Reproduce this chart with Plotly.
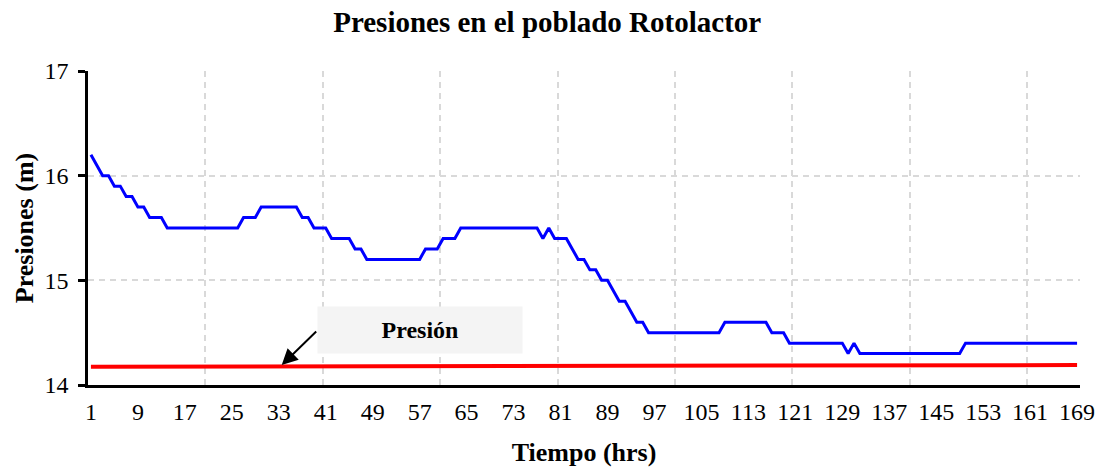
import plotly.graph_objects as go

# hours 1..169
hours = list(range(1, 170))

pressure = [
    16.2, 16.1, 16.0, 16.0, 15.9, 15.9, 15.8, 15.8, 15.7, 15.7,
    15.6, 15.6, 15.6, 15.5, 15.5, 15.5, 15.5, 15.5, 15.5, 15.5,
    15.5, 15.5, 15.5, 15.5, 15.5, 15.5, 15.6, 15.6, 15.6, 15.7,
    15.7, 15.7, 15.7, 15.7, 15.7, 15.7, 15.6, 15.6, 15.5, 15.5,
    15.5, 15.4, 15.4, 15.4, 15.4, 15.3, 15.3, 15.2, 15.2, 15.2,
    15.2, 15.2, 15.2, 15.2, 15.2, 15.2, 15.2, 15.3, 15.3, 15.3,
    15.4, 15.4, 15.4, 15.5, 15.5, 15.5, 15.5, 15.5, 15.5, 15.5,
    15.5, 15.5, 15.5, 15.5, 15.5, 15.5, 15.5, 15.4, 15.5, 15.4,
    15.4, 15.4, 15.3, 15.2, 15.2, 15.1, 15.1, 15.0, 15.0, 14.9,
    14.8, 14.8, 14.7, 14.6, 14.6, 14.5, 14.5, 14.5, 14.5, 14.5,
    14.5, 14.5, 14.5, 14.5, 14.5, 14.5, 14.5, 14.5, 14.6, 14.6,
    14.6, 14.6, 14.6, 14.6, 14.6, 14.6, 14.5, 14.5, 14.5, 14.4,
    14.4, 14.4, 14.4, 14.4, 14.4, 14.4, 14.4, 14.4, 14.4, 14.3,
    14.4, 14.3, 14.3, 14.3, 14.3, 14.3, 14.3, 14.3, 14.3, 14.3,
    14.3, 14.3, 14.3, 14.3, 14.3, 14.3, 14.3, 14.3, 14.3, 14.4,
    14.4, 14.4, 14.4, 14.4, 14.4, 14.4, 14.4, 14.4, 14.4, 14.4,
    14.4, 14.4, 14.4, 14.4, 14.4, 14.4, 14.4, 14.4, 14.4,
]

# reference pressure line (start / end)
ref_hours = [1, 169]
ref_pressure = [14.175, 14.19]

tick_hours = [1, 9, 17, 25, 33, 41, 49, 57, 65, 73, 81, 89, 97, 105,
              113, 121, 129, 137, 145, 153, 161, 169]
grid_hours = [20.5, 40.5, 60.5, 80.5, 100.5, 120.5, 140.5, 160.5]

FONT = "Liberation Serif"

fig = go.Figure()
fig.add_trace(go.Scatter(x=hours, y=pressure, mode="lines",
                         line=dict(color="#0000ff", width=3),
                         showlegend=False))
fig.add_trace(go.Scatter(x=ref_hours, y=ref_pressure, mode="lines",
                         line=dict(color="#ff0000", width=4),
                         showlegend=False))

fig.update_layout(
    width=1101, height=468,
    margin=dict(l=88, r=21, t=71, b=83),
    paper_bgcolor="white", plot_bgcolor="white",
    font=dict(family=FONT, size=24, color="black"),
    title=dict(text="<b>Presiones en el poblado Rotolactor</b>",
               x=0.497, xanchor="center", y=0.953, yanchor="middle",
               font=dict(size=29)),
    xaxis=dict(
        range=[0.5, 169.5], tickmode="array", tickvals=tick_hours,
        ticktext=[str(t) for t in tick_hours], ticks="",
        ticklabelstandoff=3,
        showgrid=False, zeroline=False, automargin=False,
        showline=True, linecolor="black", linewidth=2.5,
        title=dict(text="<b>Tiempo (hrs)</b>", font=dict(size=26), standoff=20),
        minor=dict(tickmode="array", tickvals=grid_hours, ticks="",
                   showgrid=True, gridcolor="#d9d9d9", gridwidth=1.5,
                   griddash="6px,5px"),
    ),
    yaxis=dict(
        range=[14, 17], dtick=1, ticks="outside", ticklen=7,
        tickwidth=2.5, tickcolor="black", automargin=False,
        ticklabelstandoff=5,
        showgrid=True, gridcolor="#d9d9d9", gridwidth=1.5,
        griddash="6px,5px", zeroline=False,
        showline=True, linecolor="black", linewidth=2.5,
        title=dict(text="<b>Presiones (m)</b>", font=dict(size=26), standoff=4),
    ),
)

# "Presión" label box with arrow pointing at the red line
fig.add_annotation(x=57.1, y=14.525, xref="x", yref="y",
                   text="<b>Presión</b>", showarrow=False,
                   font=dict(size=24), bgcolor="#f4f4f4",
                   width=200, height=42, borderpad=2)
fig.add_annotation(x=33.5, y=14.19, xref="x", yref="y", text="",
                   showarrow=True, arrowhead=2, arrowsize=1.6, arrowwidth=2,
                   arrowcolor="black", ax=36, ay=-35, standoff=0)

# page has no body margin so the 1101x468 figure fills the window
fig.write_html("out.html", config={"displayModeBar": False},
               post_script="document.body.style.margin='0';")
